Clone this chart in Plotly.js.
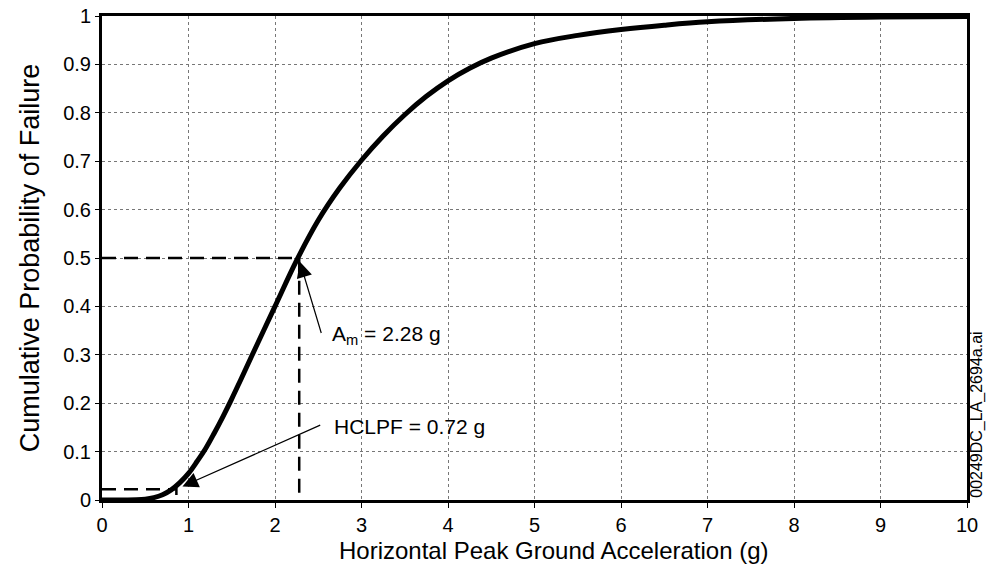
<!DOCTYPE html>
<html>
<head>
<meta charset="utf-8">
<script src="https://cdn.plot.ly/plotly-3.0.1.min.js"></script>
<style>
html,body{margin:0;padding:0;background:#fff;}
#chart{width:988px;height:571px;}
</style>
</head>
<body>
<div id="chart"></div>
<script>
// Fragility curve
var accel = [0, 0.2, 0.4, 0.5, 0.6, 0.7, 0.8, 0.9, 1.0, 1.1, 1.2, 1.3, 1.4, 1.5, 1.6, 1.8, 2.0, 2.25, 2.5, 2.75, 3.0, 3.25, 3.5, 3.75, 4.0, 4.25, 4.5, 5.0, 5.5, 6.0, 6.5, 7.0, 8.0, 9.0, 10.0];
var probFail = [0, 0, 0.0004, 0.0017, 0.005, 0.011, 0.021, 0.036, 0.055, 0.08, 0.107, 0.139, 0.173, 0.209, 0.247, 0.324, 0.40, 0.495, 0.578, 0.645, 0.702, 0.752, 0.796, 0.834, 0.866, 0.892, 0.913, 0.943, 0.960, 0.972, 0.981, 0.988, 0.995, 0.998, 0.999];

// Reference markers
var medianAccel = 2.28;
var medianProb = 0.5;
var hclpfAccel = 0.86;
var hclpfProb = 0.022;

var xTicks = [0,1,2,3,4,5,6,7,8,9,10];
var yTicks = [0,0.1,0.2,0.3,0.4,0.5,0.6,0.7,0.8,0.9,1];
var yTickText = ['0','0.1','0.2','0.3','0.4','0.5','0.6','0.7','0.8','0.9','1'];

var dashStyle = {color:'#000', width:2.5, dash:'14px,8px'};

var traces = [
  {x:[0, medianAccel, medianAccel], y:[medianProb, medianProb, 0], mode:'lines', line:dashStyle, hoverinfo:'skip'},
  {x:[0, hclpfAccel, hclpfAccel], y:[hclpfProb, hclpfProb, 0], mode:'lines', line:dashStyle, hoverinfo:'skip'},
  {x:accel, y:probFail, mode:'lines', line:{color:'#000', width:5, shape:'spline', smoothing:1}}
];

var font = 'Liberation Sans, Arial, sans-serif';

var layout = {
  width:988, height:571,
  margin:{l:102, r:21, t:16, b:71},
  showlegend:false,
  paper_bgcolor:'#fff', plot_bgcolor:'#fff',
  font:{family:font, color:'#000'},
  xaxis:{
    range:[0,10], tickvals:xTicks, ticktext:xTicks.map(String),
    showgrid:true, gridcolor:'#777', gridwidth:1, griddash:'3px,3px',
    zeroline:false, showline:true, mirror:true, linecolor:'#000', linewidth:3,
    ticks:'outside', ticklen:5, tickwidth:1, tickcolor:'#000',
    tickfont:{size:20, family:font, color:'#000'}
  },
  yaxis:{
    range:[0,1], tickvals:yTicks, ticktext:yTickText,
    showgrid:true, gridcolor:'#777', gridwidth:1, griddash:'3px,3px',
    zeroline:false, showline:true, mirror:true, linecolor:'#000', linewidth:3,
    ticks:'outside', ticklen:4, tickwidth:1, tickcolor:'#000',
    tickfont:{size:20, family:font, color:'#000'},
    title:{text:'Cumulative Probability of Failure', font:{size:27, family:font, color:'#000'}, standoff:16}
  },
  annotations:[
    {x:0.522, y:-0.105, xref:'paper', yref:'paper', xanchor:'center', yanchor:'middle', text:'Horizontal Peak Ground Acceleration (g)', showarrow:false, font:{size:24, family:font, color:'#000'}},
    {x:2.288, y:0.492, ax:2.54, ay:0.342, axref:'x', ayref:'y', xref:'x', yref:'y', text:'', showarrow:true, arrowhead:2, arrowsize:2.6, arrowwidth:1.2, arrowcolor:'#000'},
    {x:0.93, y:0.028, ax:2.54, ay:0.156, axref:'x', ayref:'y', xref:'x', yref:'y', text:'', showarrow:true, arrowhead:2, arrowsize:2.6, arrowwidth:1.2, arrowcolor:'#000'},
    {x:2.634, y:0.3415, xref:'x', yref:'y', xanchor:'left', yanchor:'middle', text:'A<sub>m</sub> = 2.28 g', showarrow:false, font:{size:21, family:font, color:'#000'}},
    {x:2.654, y:0.152, xref:'x', yref:'y', xanchor:'left', yanchor:'middle', text:'HCLPF = 0.72 g', showarrow:false, font:{size:21, family:font, color:'#000'}},
    {x:1.0115, y:0.176, xref:'paper', yref:'paper', xanchor:'center', yanchor:'middle', textangle:-90, text:'00249DC_LA_2694a.ai', showarrow:false, font:{size:16, family:font, color:'#000'}}
  ]
};

Plotly.newPlot('chart', traces, layout, {staticPlot:true, displayModeBar:false});
</script>
</body>
</html>
